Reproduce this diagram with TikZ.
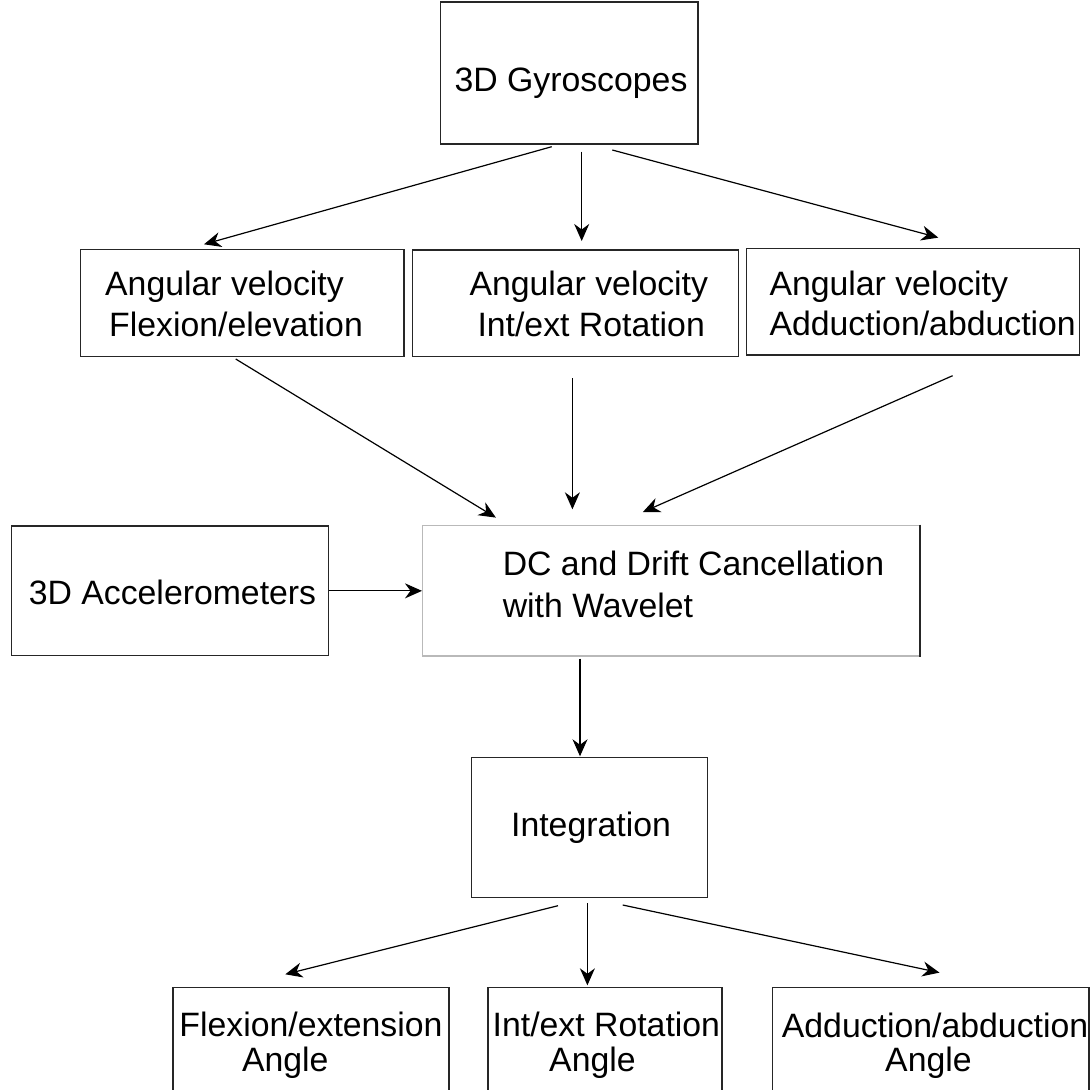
\documentclass[tikz,border=0pt]{standalone}
\usepackage{fontspec}
\setmainfont{Liberation Sans}
\usetikzlibrary{arrows.meta}
\begin{document}
\begin{tikzpicture}[x=1pt,y=-1pt,
  box/.style={draw=black!85, line width=1.4pt, rectangle, inner sep=0pt},
  lbl/.style={inner sep=0pt, font=\fontsize{33.8}{40}\selectfont},
  conn/.style={line width=1.2pt, -{Stealth[length=17pt,width=15pt,inset=5.5pt]}}]
\fill[white] (0,0) rectangle (1090,1090);
\useasboundingbox (0,0) rectangle (1090,1090);

% boxes
\node[box, minimum width=257.3pt, minimum height=142pt] (gyro) at (569.4,73) {};
\node[box, minimum width=323.3pt, minimum height=107.4pt] (avf) at (242.35,303) {};
\node[box, minimum width=325.6pt, minimum height=106.7pt] (avi) at (575.5,303.35) {};
\node[box, minimum width=332.6pt, minimum height=106.7pt] (ava) at (913,301.65) {};
\node[box, minimum width=316.6pt, minimum height=129.7pt] (acc) at (170,590.85) {};
\node[box, draw=gray!55, minimum width=496.6pt, minimum height=130.7pt] (dc) at (671,590.65) {};
\draw[line width=1.4pt, black!85] (dc.north east) -- (dc.south east);
\node[box, minimum width=235.9pt, minimum height=140pt] (int) at (589.65,827.7) {};
\node[box, minimum width=276pt, minimum height=122.3pt] (b1) at (311,1048.85) {};
\node[box, minimum width=234pt, minimum height=122.3pt] (b2) at (605,1048.85) {};
\node[box, minimum width=316.3pt, minimum height=122.3pt] (b3) at (930.85,1048.85) {};

% texts
\node[lbl, anchor=base] (gyro-t) at (571,91.7) {3D Gyroscopes};
\node[lbl, anchor=base west] (avf-t1) at (105,295) {Angular velocity};
\node[lbl, anchor=base west] (avf-t2) at (109,336.7) {Flexion/elevation};
\node[lbl, anchor=base west] (avi-t1) at (469.3,295) {Angular velocity};
\node[lbl, anchor=base west] (avi-t2) at (477.3,336.7) {Int/ext Rotation};
\node[lbl, anchor=base west] (ava-t1) at (769.3,295) {Angular velocity};
\node[lbl, anchor=base west] (ava-t2) at (769.3,335) {Adduction/abduction};
\node[lbl, anchor=base] (acc-t) at (172.5,604) {3D Accelerometers};
\node[lbl, anchor=base west] (dc-t1) at (502.6,575.5) {DC and Drift Cancellation};
\node[lbl, anchor=base west] (dc-t2) at (502.6,617) {with Wavelet};
\node[lbl, anchor=base] (int-t) at (591,836.7) {Integration};
\node[lbl, anchor=base] (b1-t1) at (311,1036) {Flexion/extension};
\node[lbl, anchor=base west] (b1-t2) at (241.8,1071.7) {Angle};
\node[lbl, anchor=base west] (b2-t1) at (492.5,1036) {Int/ext Rotation};
\node[lbl, anchor=base west] (b2-t2) at (549,1071.7) {Angle};
\node[lbl, anchor=base west] (b3-t1) at (781.7,1037) {Adduction/abduction};
\node[lbl, anchor=base west] (b3-t2) at (885,1071.7) {Angle};

% connectors
\draw[conn] ([shift={(-17.7,2)}]gyro.south) -- ([shift={(-38.35,-4.3)}]avf.north);
\draw[conn] ([shift={(12.3,7)}]gyro.south) -- ([shift={(6.2,-8.3)}]avi.north);
\draw[conn] ([shift={(42.9,5.3)}]gyro.south) -- ([shift={(25.3,-10)}]ava.north);
\draw[conn] ([shift={(-6.65,1.6)}]avf.south) -- ([shift={(-175.1,-7)}]dc.north);
\draw[conn] ([shift={(-3.1,20.6)}]avi.south) -- ([shift={(-98.6,-15.3)}]dc.north);
\draw[conn] ([shift={(39.6,20)}]ava.south) -- ([shift={(-28.1,-12.6)}]dc.north);
\draw[conn] (acc.east) -- (acc.east -| dc.west);
\draw[conn] ([shift={(-91,2)}]dc.south) -- ([shift={(-9.65,-0.7)}]int.north);
\draw[conn] ([shift={(-31.65,7.3)}]int.south) -- ([shift={(-25.7,-12.7)}]b1.north);
\draw[conn] ([shift={(-2.25,5)}]int.south) -- ([shift={(-17.6,-1.7)}]b2.north);
\draw[conn] ([shift={(33.05,6.6)}]int.south) -- ([shift={(8.65,-14.4)}]b3.north);
\end{tikzpicture}
\end{document}
